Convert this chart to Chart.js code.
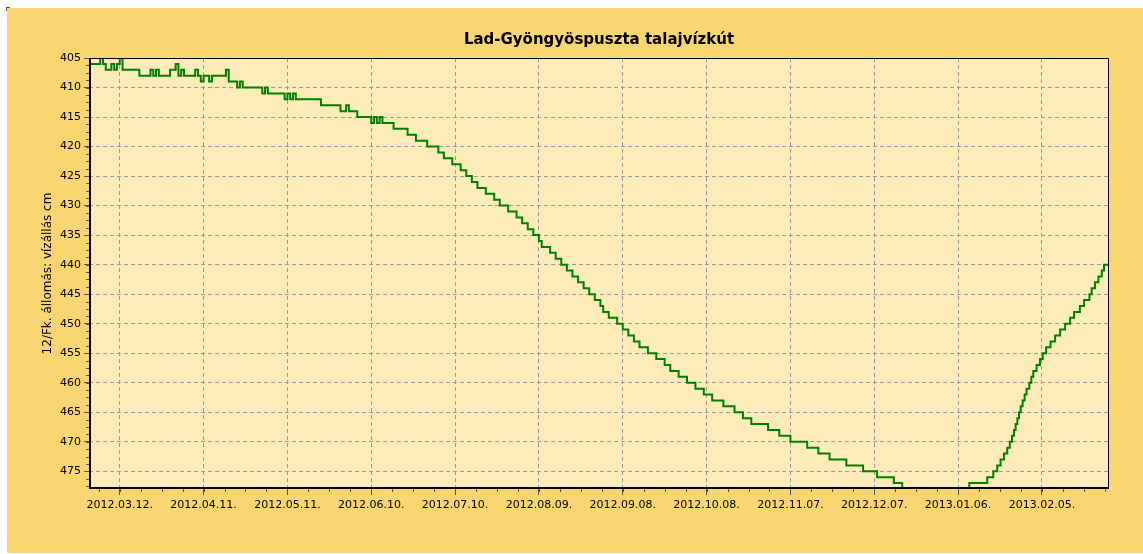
<!DOCTYPE html>
<html>
<head>
<meta charset="utf-8">
<script src="https://cdn.jsdelivr.net/npm/chart.js@4.4.0/dist/chart.umd.min.js"></script>
<style>
  html, body { margin: 0; padding: 0; background: #fff; }
  #panel { position: absolute; left: 7px; top: 8px; width: 1136px; height: 545px; background: #f9d672; }
  #corner { position: absolute; left: 6px; top: 7px; width: 3px; height: 3px; border-left: 1px solid #555; border-top: 1px solid #555; }
  canvas { display: block; }
</style>
</head>
<body>
<div id="panel"><canvas id="chart" width="1136" height="545"></canvas></div>
<div id="corner"></div>
<script>
// leolvasási időpontok (a szint ettől az időponttól a következőig érvényes)
const readDates = [
  '2012-03-01','2012-03-05','2012-03-06','2012-03-07','2012-03-09','2012-03-10','2012-03-11','2012-03-12','2012-03-13','2012-03-19',
  '2012-03-23','2012-03-24','2012-03-25','2012-03-26','2012-03-30','2012-04-01','2012-04-02','2012-04-03','2012-04-04','2012-04-08',
  '2012-04-09','2012-04-10','2012-04-11','2012-04-13','2012-04-14','2012-04-19','2012-04-20','2012-04-23','2012-04-24','2012-04-25',
  '2012-05-02','2012-05-03','2012-05-04','2012-05-10','2012-05-11','2012-05-12','2012-05-13','2012-05-14','2012-05-23','2012-05-30',
  '2012-06-01','2012-06-02','2012-06-05','2012-06-10','2012-06-11','2012-06-12','2012-06-13','2012-06-14','2012-06-18','2012-06-23',
  '2012-06-26','2012-06-30','2012-07-04','2012-07-06','2012-07-09','2012-07-12','2012-07-14','2012-07-16','2012-07-18','2012-07-21',
  '2012-07-24','2012-07-26','2012-07-29','2012-08-01','2012-08-03','2012-08-05','2012-08-07','2012-08-09','2012-08-10','2012-08-13',
  '2012-08-15','2012-08-17','2012-08-19','2012-08-21','2012-08-23','2012-08-25','2012-08-27','2012-08-29','2012-08-31','2012-09-01',
  '2012-09-03','2012-09-06','2012-09-08','2012-09-10','2012-09-12','2012-09-14','2012-09-17','2012-09-20','2012-09-23','2012-09-25',
  '2012-09-28','2012-10-01','2012-10-04','2012-10-07','2012-10-10','2012-10-14','2012-10-18','2012-10-21','2012-10-24','2012-10-30',
  '2012-11-03','2012-11-07','2012-11-13','2012-11-17','2012-11-21','2012-11-27','2012-12-03','2012-12-08','2012-12-14','2012-12-17',
  '2013-01-10','2013-01-16 10','2013-01-18 14','2013-01-20','2013-01-21 05','2013-01-22 10','2013-01-23 14','2013-01-24 12','2013-01-25 07','2013-01-26',
  '2013-01-26 14','2013-01-27 05','2013-01-27 19','2013-01-28 10','2013-01-29 02','2013-01-29 19','2013-01-30 12','2013-01-31 12','2013-02-01 05','2013-02-01 22',
  '2013-02-03 02','2013-02-04 07','2013-02-05 07','2013-02-06 12','2013-02-08 02','2013-02-09 17','2013-02-11 12','2013-02-13 07','2013-02-15 02','2013-02-16 12',
  '2013-02-18 14','2013-02-20 02','2013-02-22','2013-02-22 19','2013-02-24','2013-02-25 05','2013-02-26 10','2013-02-27 05','2013-03-01'
];

// vízállás cm
const waterLevel = [
  406, 405, 406, 407, 406, 407, 406, 405, 407, 408,
  407, 408, 407, 408, 407, 406, 408, 407, 408, 407,
  408, 409, 408, 409, 408, 407, 409, 410, 409, 410,
  411, 410, 411, 412, 411, 412, 411, 412, 413, 414,
  413, 414, 415, 416, 415, 416, 415, 416, 417, 418,
  419, 420, 421, 422, 423, 424, 425, 426, 427, 428,
  429, 430, 431, 432, 433, 434, 435, 436, 437, 438,
  439, 440, 441, 442, 443, 444, 445, 446, 447, 448,
  449, 450, 451, 452, 453, 454, 455, 456, 457, 458,
  459, 460, 461, 462, 463, 464, 465, 466, 467, 468,
  469, 470, 471, 472, 473, 474, 475, 476, 477, 478,
  477, 476, 475, 474, 473, 472, 471, 470, 469, 468,
  467, 466, 465, 464, 463, 462, 461, 460, 459, 458,
  457, 456, 455, 454, 453, 452, 451, 450, 449, 448,
  447, 446, 445, 444, 443, 442, 441, 440, 440
];

const xTickLabels = ['2012.03.12.', '2012.04.11.', '2012.05.11.', '2012.06.10.', '2012.07.10.', '2012.08.09.',
  '2012.09.08.', '2012.10.08.', '2012.11.07.', '2012.12.07.', '2013.01.06.', '2013.02.05.'];
const yTicks = [405, 410, 415, 420, 425, 430, 435, 440, 445, 450, 455, 460, 465, 470, 475];

const xStart = '2012-03-01';
const xEnd = '2013-03-01';
const yMin = 405;
const yMax = 478;

const chartTitle = 'Lad-Gyöngyöspuszta talajvízkút';
const yTitle = '12/Fk. állomás: vízállás cm';

// napok száma a kezdőnaptól (óra is lehet a végén)
const origin = Date.UTC(2012, 2, 1);
function dayOf(s) {
  const p = s.split(/[.\- ]/).filter(t => t !== '').map(Number);
  return (Date.UTC(p[0], p[1] - 1, p[2], p[3] || 0) - origin) / 86400000;
}

const FONT = '"DejaVu Sans", Verdana, sans-serif';
const GRID = '#9a9a9a';

const plotBackground = {
  id: 'plotBackground',
  beforeDraw(chart) {
    const { ctx, chartArea: a } = chart;
    ctx.save();
    ctx.fillStyle = '#fdebb9';
    ctx.fillRect(a.left, a.top, a.right - a.left, a.bottom - a.top);
    ctx.restore();
  }
};

const frameAndMinorTicks = {
  id: 'frameAndMinorTicks',
  afterDatasetsDraw(chart) {
    const { ctx, chartArea: a, scales: { x, y } } = chart;
    ctx.save();
    ctx.strokeStyle = '#555';
    ctx.lineWidth = 1;
    ctx.beginPath();
    const first = dayOf(xTickLabels[0]);
    for (let v = first - 7.5; v <= x.max; v += 7.5) {
      if (v < x.min) continue;
      const px = Math.round(x.getPixelForValue(v)) + 0.5;
      ctx.moveTo(px, a.bottom);
      ctx.lineTo(px, a.bottom + 3);
    }
    for (let v = yMin; v <= yMax; v += 1.25) {
      const py = Math.round(y.getPixelForValue(v)) + 0.5;
      ctx.moveTo(a.left - 3, py);
      ctx.lineTo(a.left, py);
    }
    ctx.stroke();

    ctx.strokeStyle = '#000';
    ctx.lineWidth = 1;
    ctx.beginPath();
    ctx.moveTo(a.left, a.top + 0.5);
    ctx.lineTo(a.right - 0.5, a.top + 0.5);
    ctx.lineTo(a.right - 0.5, a.bottom);
    ctx.stroke();
    ctx.lineWidth = 2;
    ctx.beginPath();
    ctx.moveTo(a.left + 1, a.top);
    ctx.lineTo(a.left + 1, a.bottom - 1);
    ctx.lineTo(a.right, a.bottom - 1);
    ctx.stroke();
    ctx.restore();
  }
};

new Chart(document.getElementById('chart'), {
  type: 'line',
  data: {
    datasets: [{
      data: readDates.map((d, i) => ({ x: dayOf(d), y: waterLevel[i] })),
      borderColor: '#008000',
      borderWidth: 2,
      pointRadius: 0,
      stepped: true,
      fill: false
    }]
  },
  options: {
    responsive: false,
    animation: false,
    layout: { padding: { left: 0, right: 34, top: 0, bottom: 0 } },
    plugins: {
      legend: { display: false },
      tooltip: { enabled: false },
      title: {
        display: true,
        fullSize: false,
        text: chartTitle,
        color: '#000',
        font: { family: FONT, size: 15, weight: 'bold' },
        padding: { top: 23, bottom: 9 }
      }
    },
    scales: {
      x: {
        type: 'linear',
        min: dayOf(xStart),
        max: dayOf(xEnd),
        afterBuildTicks: s => { s.ticks = xTickLabels.map(t => ({ value: dayOf(t) })); },
        afterFit: s => { s.height = 64; },
        ticks: {
          autoSkip: false,
          maxRotation: 0,
          color: '#000',
          padding: 4,
          font: { family: FONT, size: 11 },
          callback: (v, i) => xTickLabels[i]
        },
        grid: { color: GRID, lineWidth: 1, tickColor: '#555', tickLength: 6 },
        border: { display: false, dash: [4, 3] }
      },
      y: {
        type: 'linear',
        reverse: true,
        min: yMin,
        max: yMax,
        afterBuildTicks: s => { s.ticks = yTicks.map(v => ({ value: v })); },
        afterFit: s => { s.width = 82; },
        ticks: {
          color: '#000',
          padding: 3,
          font: { family: FONT, size: 11 }
        },
        grid: { color: GRID, lineWidth: 1, tickColor: '#555', tickLength: 5 },
        border: { display: false, dash: [4, 3] },
        title: {
          display: true,
          text: yTitle,
          color: '#000',
          font: { family: FONT, size: 12 },
          padding: { top: 34, bottom: 0 }
        }
      }
    }
  },
  plugins: [plotBackground, frameAndMinorTicks]
});
</script>
</body>
</html>
